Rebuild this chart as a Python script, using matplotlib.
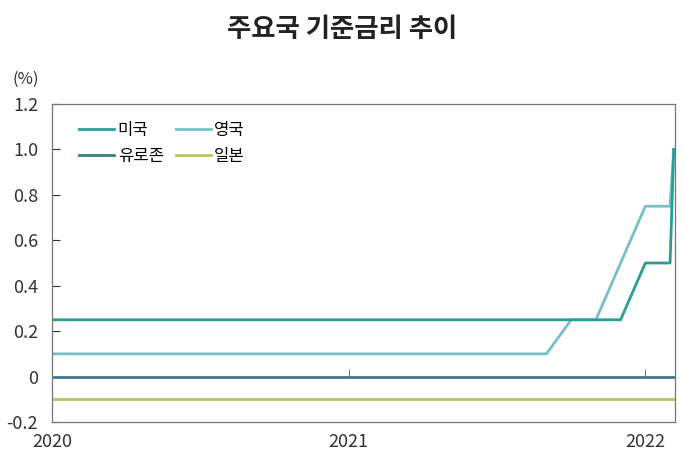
import matplotlib
matplotlib.use("Agg")
import matplotlib.pyplot as plt

plt.rcParams['font.family'] = ['Noto Sans CJK KR', 'DejaVu Sans']

# months since Jan 2020 (0 = 2020-01), last point a few days into Feb 2022
months = list(range(26)) + [25.15]

us = [0.25] * 24 + [0.5, 0.5, 1.0]
uk = [0.1] * 21 + [0.25, 0.25, 0.5, 0.75, 0.75, 1.0]
euro = [0.0] * 27
japan = [-0.1] * 27

year_ticks = [0, 12, 24]
year_labels = ["2020", "2021", "2022"]
y_ticks = [-0.2, 0, 0.2, 0.4, 0.6, 0.8, 1.0, 1.2]
y_labels = ["-0.2", "0", "0.2", "0.4", "0.6", "0.8", "1.0", "1.2"]

c_us = "#2a9d95"
c_uk = "#78c0c8"
c_euro = "#3b7a8c"
c_jp = "#b6c46a"

fig = plt.figure(figsize=(6.85, 4.59), dpi=100)
ax = fig.add_axes([52 / 685, 37 / 459, 623 / 685, 318 / 459])

ax.plot(months, japan, color=c_jp, lw=2, label="일본")
ax.plot(months, euro, color=c_euro, lw=2, label="유로존")
ax.plot(months, uk, color=c_uk, lw=2, label="영국")
ax.plot(months, us, color=c_us, lw=2, label="미국")

ax.set_xlim(0, 25.2)
ax.set_ylim(-0.2, 1.2)
ax.set_yticks(y_ticks)
ax.set_yticklabels(y_labels)
ax.set_xticks(year_ticks)
ax.set_xticklabels(year_labels)
ax.tick_params(axis="x", length=0, pad=8, labelsize=13, colors="#333333")
ax.tick_params(axis="y", direction="in", length=6, width=0.8, pad=10,
               labelsize=13, colors="#333333")
for s in ax.spines.values():
    s.set_color("#777777")
    s.set_linewidth(0.9)

# small year ticks sitting on the zero line
sec = ax.secondary_xaxis(0.2 / 1.4)
sec.set_xticks(year_ticks[1:])
sec.tick_params(direction="in", length=6, width=0.8, labelbottom=False,
                colors="#777777")
sec.spines["bottom"].set_visible(False)

h, l = ax.get_legend_handles_labels()
order = [3, 1, 2, 0]
ax.legend([h[i] for i in order], [l[i] for i in order], ncol=2,
          loc="upper left", bbox_to_anchor=(0.02, 0.99), frameon=False,
          fontsize=12, handlelength=2.1, handletextpad=0.2,
          columnspacing=0.7, labelspacing=0.5)

fig.text(12 / 685, 1 - 84 / 459, "(%)", fontsize=12, color="#333333")
fig.suptitle("주요국 기준금리 추이", x=0.5, y=0.965, fontsize=19,
             fontweight="bold", color="#222222")

fig.savefig("out.png", dpi=100)
